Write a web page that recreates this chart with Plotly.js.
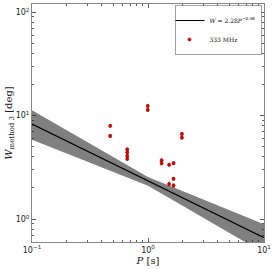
<!DOCTYPE html>
<html><head><meta charset="utf-8">
<script src="https://cdn.plot.ly/plotly-3.0.1.min.js"></script>
<style>html,body{margin:0;padding:0;background:#fff}#c{width:276px;height:269px}</style>
</head><body><div id="c"></div>
<script>
// Measured data (333 MHz)
const period = [0.472,0.472, 0.662,0.662,0.662,0.662, 0.995,0.995, 1.96,1.96, 1.31,1.31, 1.52,1.52, 1.66,1.66,1.66];
const width  = [7.96,6.37, 4.72,4.42,4.08,3.82, 12.4,11.35, 6.66,6.13, 3.70,3.46, 3.35,2.18, 3.47,2.45,2.11];
const widthErr = [0.2,0.2, 0.12,0.12,0.12,0.12, 0.3,0.3, 0.18,0.18, 0.1,0.1, 0.1,0.07, 0.1,0.07,0.07];
// Fit line W = 2.28 P^-0.56 (end points)
const fitP = [0.1, 10];
const fitW = [8.3, 0.66];
// Confidence band
const bandP = [0.1, 1.0, 10];
const bandHi = [11.3, 2.55, 0.89];
const bandLo = [5.85, 2.1, 0.47];
const xTickVals = [0.1, 1, 10];
const xTickText = ['10<sup>−1</sup>','10<sup>0</sup>','10<sup>1</sup>'];
const yTickVals = [1, 10, 100];
const yTickText = ['10<sup>0</sup>','10<sup>1</sup>','10<sup>2</sup>'];

const minorX = [];
[0.1,1].forEach(d=>{for(let k=2;k<10;k++)minorX.push(d*k);});
const minorY = [];
[0.1,1,10].forEach(d=>{for(let k=2;k<10;k++){const v=d*k; if(v>=0.6&&v<=120)minorY.push(v);}});

const traces = [
  {x: bandP, y: bandLo, mode:'lines', line:{width:0,color:'rgba(0,0,0,0)'}, showlegend:false, hoverinfo:'skip'},
  {x: bandP, y: bandHi, mode:'lines', fill:'tonexty', fillcolor:'#808080', line:{width:0,color:'rgba(0,0,0,0)'}, showlegend:false, hoverinfo:'skip'},
  {x: fitP, y: fitW, mode:'lines', line:{color:'#000', width:1.2}, name:'<i>W</i> = 2.28<i>P</i><sup>−0.56</sup>'},
  {x: period, y: width, mode:'markers', name:'333 MHz',
   marker:{color:'#e00000', size:3.2, line:{color:'#900000', width:0.5}},
   error_y:{type:'data', array: widthErr, color:'#e00000', thickness:0.8, width:1.2}}
];

const axBase = {type:'log', showline:true, linecolor:'#888', linewidth:1, mirror:'allticks',
  ticks:'inside', ticklen:4, tickcolor:'#333', tickwidth:0.8, showgrid:false, zeroline:false,
  tickfont:{family:'DejaVu Sans', size:8, color:'#222'}};

const layout = {
  width:276, height:269, margin:{l:32, r:12, t:4, b:27},
  paper_bgcolor:'#fff', plot_bgcolor:'#fff',
  xaxis: Object.assign({}, axBase, {range:[-1,1], tickmode:'array', tickvals:xTickVals, ticktext:xTickText,
     minor:{ticks:'inside', ticklen:2, tickcolor:'#333', tickvals:minorX, showgrid:false},
     title:{text:'<i>P</i> [s]', standoff:2, font:{family:'DejaVu Serif', size:10, color:'#222'}}}),
  yaxis: Object.assign({}, axBase, {range:[Math.log10(0.6), Math.log10(120)], tickmode:'array', tickvals:yTickVals, ticktext:yTickText,
     minor:{ticks:'inside', ticklen:2, tickcolor:'#333', tickvals:minorY, showgrid:false},
     title:{text:'<i>W</i><sub>method 3</sub> [deg]', standoff:0, font:{family:'DejaVu Serif', size:10, color:'#222'}}}),
  legend:{x:0.99, y:0.995, xanchor:'right', yanchor:'top', bgcolor:'#fff', bordercolor:'#888', borderwidth:0.8,
     traceorder:'normal', font:{family:'DejaVu Serif', size:6, color:'#000'}, tracegroupgap:0, itemwidth:30,
     indentation:-6},
  showlegend:true
};
Plotly.newPlot('c', traces, layout, {staticPlot:true, displayModeBar:false});
</script></body></html>
